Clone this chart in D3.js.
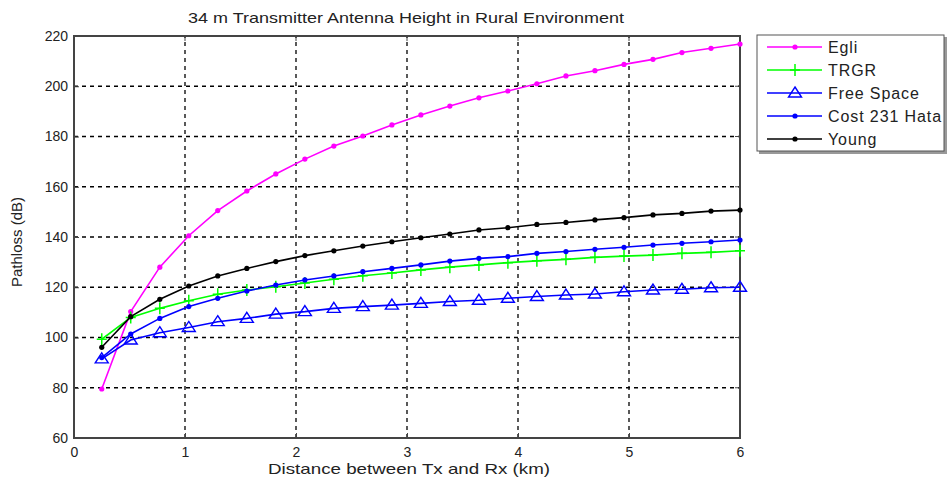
<!DOCTYPE html>
<html>
<head>
<meta charset="utf-8">
<script src="https://cdn.jsdelivr.net/npm/d3@7"></script>
<style>
  body { margin: 0; background: #fff; }
  svg text { font-family: "Liberation Sans", Arial, sans-serif; fill: #222; }
</style>
</head>
<body>
<div id="chart"></div>
<script>
// distance points (km)
const distances = [0.25, 0.511, 0.773, 1.034, 1.295, 1.557, 1.818, 2.080, 2.341, 2.602, 2.864, 3.125,
  3.386, 3.648, 3.909, 4.170, 4.432, 4.693, 4.955, 5.216, 5.477, 5.739, 6.0];

const egli = [79.5, 110.3, 128.0, 140.5, 150.5, 158.3, 165.1, 171.0, 176.2, 180.2, 184.6, 188.6,
  192.1, 195.4, 198.1, 201.0, 204.1, 206.2, 208.7, 210.7, 213.4, 215.1, 216.8];
const trgr = [99.3, 108.0, 111.6, 114.6, 117.2, 118.9, 120.2, 121.7, 123.2, 124.6, 125.7, 126.9,
  128.0, 128.9, 129.8, 130.5, 131.1, 131.9, 132.4, 132.8, 133.5, 133.9, 134.5];
const freeSpace = [91.5, 99.0, 101.9, 104.0, 106.3, 107.6, 109.3, 110.3, 111.6, 112.3, 112.9, 113.6,
  114.3, 114.8, 115.6, 116.3, 116.9, 117.3, 118.2, 118.9, 119.2, 119.8, 120.0];
const cost231 = [92.0, 101.4, 107.6, 112.3, 115.6, 118.5, 120.9, 122.9, 124.5, 126.2, 127.5, 128.9,
  130.4, 131.5, 132.2, 133.5, 134.2, 135.1, 135.9, 136.8, 137.5, 138.1, 138.8];
const young = [96.1, 108.3, 115.2, 120.5, 124.5, 127.5, 130.2, 132.6, 134.5, 136.4, 138.1, 139.7,
  141.2, 142.8, 143.7, 145.0, 145.8, 146.8, 147.7, 148.8, 149.4, 150.3, 150.7];

const xTicks = [0, 1, 2, 3, 4, 5, 6];
const yTicks = [60, 80, 100, 120, 140, 160, 180, 200, 220];

const series = [
  { name: "Egli", values: egli, color: "#ff00ff", marker: "dot" },
  { name: "TRGR", values: trgr, color: "#00ff00", marker: "plus" },
  { name: "Free Space", values: freeSpace, color: "#0000ff", marker: "triangle" },
  { name: "Cost 231 Hata", values: cost231, color: "#0000ff", marker: "dot" },
  { name: "Young", values: young, color: "#000000", marker: "dot" }
];

const width = 947;
const height = 484;
const margin = { top: 36, right: 207, bottom: 46, left: 74 };

const svg = d3.select("#chart")
  .append("svg")
  .attr("width", width)
  .attr("height", height);

const x = d3.scaleLinear().domain([0, 6]).range([margin.left, width - margin.right]);
const y = d3.scaleLinear().domain([60, 220]).range([height - margin.bottom, margin.top]);

// Grid lines
svg.append("g")
  .selectAll("line")
  .data(xTicks.slice(1, -1))
  .enter()
  .append("line")
  .attr("x1", d => x(d)).attr("x2", d => x(d))
  .attr("y1", y(60)).attr("y2", y(220))
  .attr("stroke", "#000")
  .attr("stroke-width", 1.3)
  .attr("stroke-dasharray", "4,4");

svg.append("g")
  .selectAll("line")
  .data(yTicks.slice(1, -1))
  .enter()
  .append("line")
  .attr("x1", x(0)).attr("x2", x(6))
  .attr("y1", d => y(d)).attr("y2", d => y(d))
  .attr("stroke", "#000")
  .attr("stroke-width", 1.3)
  .attr("stroke-dasharray", "4,4");

// Axes (ticks pointing inside)
const axisColor = "#444";
const xAxis = svg.append("g")
  .attr("transform", `translate(0, ${y(60)})`)
  .call(d3.axisBottom(x).tickValues(xTicks).tickSize(-5).tickPadding(9).tickFormat(d3.format("d")));
const yAxis = svg.append("g")
  .attr("transform", `translate(${x(0)}, 0)`)
  .call(d3.axisLeft(y).tickValues(yTicks).tickSize(-5).tickPadding(6));
[xAxis, yAxis].forEach(a => {
  a.select(".domain").remove();
  a.selectAll(".tick line").attr("stroke", axisColor);
  a.selectAll("text").attr("font-size", 14).attr("fill", "#222")
    .style("font-family", "Liberation Sans, Arial, sans-serif");
});

// top/right ticks
svg.append("g").selectAll("line").data(xTicks).enter().append("line")
  .attr("x1", d => x(d)).attr("x2", d => x(d))
  .attr("y1", y(220)).attr("y2", y(220) + 5)
  .attr("stroke", axisColor);
svg.append("g").selectAll("line").data(yTicks).enter().append("line")
  .attr("x1", x(6) - 5).attr("x2", x(6))
  .attr("y1", d => y(d)).attr("y2", d => y(d))
  .attr("stroke", axisColor);

// Plot frame
svg.append("rect")
  .attr("x", x(0)).attr("y", y(220))
  .attr("width", x(6) - x(0)).attr("height", y(60) - y(220))
  .attr("fill", "none")
  .attr("stroke", axisColor)
  .attr("stroke-width", 2);

// Lines and markers
const line = d3.line()
  .x((d, i) => x(distances[i]))
  .y(d => y(d));

function drawMarker(g, type, color, cx, cy) {
  if (type === "dot") {
    g.append("circle").attr("cx", cx).attr("cy", cy).attr("r", 2.6).attr("fill", color);
  } else if (type === "plus") {
    g.append("path")
      .attr("d", `M${cx - 5},${cy}H${cx + 5}M${cx},${cy - 6}V${cy + 6}`)
      .attr("stroke", color).attr("stroke-width", 1.5).attr("fill", "none");
  } else if (type === "triangle") {
    g.append("path")
      .attr("d", `M${cx},${cy - 6}L${cx + 6.5},${cy + 4}L${cx - 6.5},${cy + 4}Z`)
      .attr("stroke", color).attr("stroke-width", 1.4).attr("fill", "none");
  }
}

series.forEach(s => {
  const g = svg.append("g");
  g.append("path")
    .datum(s.values)
    .attr("d", line)
    .attr("fill", "none")
    .attr("stroke", s.color)
    .attr("stroke-width", 1.6);
  s.values.forEach((v, i) => drawMarker(g, s.marker, s.color, x(distances[i]), y(v)));
});

// Title and axis labels
svg.append("text")
  .attr("x", 406)
  .attr("y", 23)
  .attr("text-anchor", "middle")
  .attr("font-size", 15)
  .attr("textLength", 436)
  .attr("lengthAdjust", "spacingAndGlyphs")
  .text("34 m Transmitter Antenna Height in Rural Environment");

svg.append("text")
  .attr("x", 409)
  .attr("y", 474)
  .attr("text-anchor", "middle")
  .attr("font-size", 15)
  .attr("textLength", 282)
  .attr("lengthAdjust", "spacingAndGlyphs")
  .text("Distance between Tx and Rx (km)");

svg.append("text")
  .attr("transform", `translate(22, 242) rotate(-90)`)
  .attr("text-anchor", "middle")
  .attr("font-size", 15)
  .text("Pathloss (dB)");

// Legend
const legend = svg.append("g").attr("transform", "translate(757, 35)");
legend.append("rect")
  .attr("x", 2).attr("y", 2)
  .attr("width", 188).attr("height", 117)
  .attr("fill", "#999");
legend.append("rect")
  .attr("width", 187).attr("height", 116)
  .attr("fill", "#fff")
  .attr("stroke", "#555")
  .attr("stroke-width", 1);

series.forEach((s, i) => {
  const ly = 12 + i * 23;
  const row = legend.append("g");
  row.append("line")
    .attr("x1", 10).attr("x2", 65)
    .attr("y1", ly).attr("y2", ly)
    .attr("stroke", s.color).attr("stroke-width", 1.6);
  drawMarker(row, s.marker, s.color, 38, ly);
  row.append("text")
    .attr("x", 71).attr("y", ly + 6)
    .attr("font-size", 16)
    .attr("letter-spacing", 0.9)
    .text(s.name);
});
</script>
</body>
</html>
